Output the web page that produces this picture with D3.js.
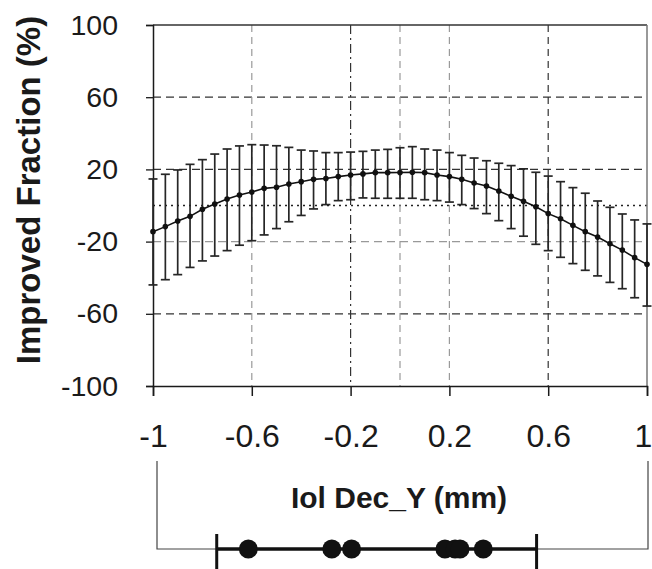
<!DOCTYPE html>
<html>
<head>
<meta charset="utf-8">
<script src="https://cdn.jsdelivr.net/npm/d3@7"></script>
<style>
  html, body { margin: 0; padding: 0; background: #fff; }
  svg { display: block; font-family: "Liberation Sans", Arial, sans-serif; }
</style>
</head>
<body>
<svg id="chart" width="652" height="569"></svg>
<script>
// ---- data ----
const xPositions = [-1, -0.95, -0.9, -0.85, -0.8, -0.75, -0.7, -0.65, -0.6, -0.55,
  -0.5, -0.45, -0.4, -0.35, -0.3, -0.25, -0.2, -0.15, -0.1, -0.05,
  0, 0.05, 0.1, 0.15, 0.2, 0.25, 0.3, 0.35, 0.4, 0.45,
  0.5, 0.55, 0.6, 0.65, 0.7, 0.75, 0.8, 0.85, 0.9, 0.95, 1];
const meanValues = [-14.5, -11.7, -8.6, -6.0, -2.1, 0.8, 3.6, 5.8, 7.5, 9.5,
  10.1, 11.9, 13.2, 14.5, 15.0, 16.0, 16.9, 17.5, 18.2, 18.2,
  18.3, 18.4, 18.2, 16.9, 16.0, 14.5, 12.5, 10.8, 8.0, 5.1,
  2.3, -0.7, -4.5, -7.3, -11.0, -14.5, -17.5, -21.2, -24.7, -28.9, -32.6];
const upperValues = [14.7, 17.3, 19.7, 22.8, 25.4, 28.5, 31.3, 33.0, 33.7, 33.5,
  33.1, 32.2, 30.7, 30.2, 29.3, 29.3, 29.6, 30.0, 30.7, 31.1,
  32.0, 32.6, 31.3, 30.7, 29.3, 27.8, 26.3, 24.8, 23.4, 22.1,
  20.3, 18.4, 16.3, 13.2, 9.9, 6.8, 2.5, -1.0, -4.7, -8.0, -10.2];
const lowerValues = [-44.0, -41.1, -38.3, -34.3, -30.7, -28.0, -25.0, -22.0, -19.5, -16.3,
  -12.8, -9.0, -5.5, -1.9, 0.5, 2.7, 3.2, 4.2, 4.0, 4.0,
  4.0, 4.0, 3.2, 2.7, 1.9, 0.5, -1.7, -4.5, -8.4, -12.8,
  -17.0, -21.5, -25.0, -28.7, -32.2, -35.9, -39.0, -42.6, -46.1, -51.1, -55.7];
const xTickValues = [-1, -0.6, -0.2, 0.2, 0.6, 1];
const xTickLabels = ["-1", "-0.6", "-0.2", "0.2", "0.6", "1"];
const yTickValues = [-100, -60, -20, 20, 60, 100];
const yTickLabels = ["-100", "-60", "-20", "20", "60", "100"];
const sampleValues = [-0.614, -0.276, -0.196, 0.182, 0.223, 0.243, 0.337];
const sampleRange = [-0.742, 0.553];
const yTitle = "Improved Fraction (%)";
const xTitle = "Iol Dec_Y (mm)";

// ---- layout ----
const svg = d3.select("#chart");
const x = d3.scaleLinear().domain([-1, 1]).range([153, 647]);
const y = d3.scaleLinear().domain([-100, 100]).range([386, 25]);
const ink = "#1a1a1a";

// gridlines
const hGrid = [
  {v: 60, color: "#333", dash: "8,5", w: 1.2},
  {v: 20, color: "#333", dash: "8,5", w: 1.2},
  {v: 0, color: "#222", dash: "2,4", w: 1.6},
  {v: -20, color: "#999", dash: "8,5", w: 1.2},
  {v: -60, color: "#333", dash: "8,5", w: 1.2}
];
svg.append("g").selectAll("line").data(hGrid).join("line")
  .attr("x1", x(-1)).attr("x2", x(1))
  .attr("y1", d => y(d.v)).attr("y2", d => y(d.v))
  .attr("stroke", d => d.color).attr("stroke-width", d => d.w)
  .attr("stroke-dasharray", d => d.dash);

const vGrid = [
  {v: -0.6, color: "#9a9a9a", dash: "7,5"},
  {v: -0.2, color: "#333", dash: "9,4,2,4"},
  {v: 0, color: "#9a9a9a", dash: "7,5"},
  {v: 0.2, color: "#9a9a9a", dash: "7,5"},
  {v: 0.6, color: "#333", dash: "7,5"}
];
svg.append("g").selectAll("line").data(vGrid).join("line")
  .attr("x1", d => x(d.v)).attr("x2", d => x(d.v))
  .attr("y1", y(100)).attr("y2", y(-100))
  .attr("stroke", d => d.color).attr("stroke-width", 1.2)
  .attr("stroke-dasharray", d => d.dash);

// frame: top and right
svg.append("line").attr("x1", x(-1)).attr("x2", x(1)).attr("y1", y(100)).attr("y2", y(100))
  .attr("stroke", "#333").attr("stroke-width", 1.5);
svg.append("line").attr("x1", x(1)).attr("x2", x(1)).attr("y1", y(100)).attr("y2", y(-100))
  .attr("stroke", "#777").attr("stroke-width", 1.5);

// axes
const yAxis = d3.axisLeft(y).tickValues(yTickValues)
  .tickFormat((d, i) => yTickLabels[i]).tickSize(7).tickPadding(28);
const gy = svg.append("g").attr("transform", `translate(${x(-1)},0)`).call(yAxis);
gy.select(".domain").attr("stroke", ink).attr("stroke-width", 1.5);
gy.selectAll(".tick line").attr("stroke", ink).attr("stroke-width", 1.3);
gy.selectAll(".tick text").attr("font-size", 28.5).attr("fill", ink)
  .attr("font-family", "'Liberation Sans', Arial, sans-serif");

const xAxis = d3.axisBottom(x).tickValues(xTickValues)
  .tickFormat((d, i) => xTickLabels[i]).tickSize(10).tickPadding(28);
const gx = svg.append("g").attr("transform", `translate(0,${y(-100)})`).call(xAxis);
gx.select(".domain").attr("stroke", ink).attr("stroke-width", 1.5);
gx.selectAll(".tick line").attr("stroke", ink).attr("stroke-width", 1.5);
gx.selectAll(".tick text").attr("font-size", 32).attr("fill", ink)
  .attr("font-family", "'Liberation Sans', Arial, sans-serif")
  .attr("dx", (d, i) => i === xTickValues.length - 1 ? -4 : 0);

// error bars
const data = xPositions.map((xv, i) => ({x: xv, m: meanValues[i], hi: upperValues[i], lo: lowerValues[i]}));
const capW = 4.5;
const eb = svg.append("g").attr("stroke", "#262626").attr("stroke-width", 1.7);
eb.selectAll("line.v").data(data).join("line").attr("class", "v")
  .attr("x1", d => x(d.x)).attr("x2", d => x(d.x))
  .attr("y1", d => y(d.hi)).attr("y2", d => y(d.lo));
eb.selectAll("line.t").data(data).join("line").attr("class", "t")
  .attr("x1", d => x(d.x) - capW).attr("x2", d => x(d.x) + capW)
  .attr("y1", d => y(d.hi)).attr("y2", d => y(d.hi));
eb.selectAll("line.b").data(data).join("line").attr("class", "b")
  .attr("x1", d => x(d.x) - capW).attr("x2", d => x(d.x) + capW)
  .attr("y1", d => y(d.lo)).attr("y2", d => y(d.lo));

// mean line + points
svg.append("path").datum(data)
  .attr("d", d3.line().x(d => x(d.x)).y(d => y(d.m)))
  .attr("fill", "none").attr("stroke", "#111").attr("stroke-width", 1.6);
svg.append("g").selectAll("circle").data(data).join("circle")
  .attr("cx", d => x(d.x)).attr("cy", d => y(d.m)).attr("r", 2.8).attr("fill", "#111");

// titles
svg.append("text").attr("transform", `translate(40,190) rotate(-90)`)
  .attr("text-anchor", "middle").attr("font-weight", "bold").attr("font-size", 33)
  .attr("fill", ink).text(yTitle);
svg.append("text").attr("x", 399).attr("y", 508)
  .attr("text-anchor", "middle").attr("font-weight", "bold").attr("font-size", 30)
  .attr("fill", ink).text(xTitle);

// sample strip box
const boxY = 549;
svg.append("path")
  .attr("d", `M${x(-1) + 4},461 V${boxY} H${x(1) + 1} V461`)
  .attr("fill", "none").attr("stroke", "#444").attr("stroke-width", 1.2);
svg.append("line").attr("x1", x(sampleRange[0])).attr("x2", x(sampleRange[1]))
  .attr("y1", boxY).attr("y2", boxY).attr("stroke", "#111").attr("stroke-width", 3.5);
svg.append("g").selectAll("line").data(sampleRange).join("line")
  .attr("x1", d => x(d)).attr("x2", d => x(d)).attr("y1", 534).attr("y2", 569)
  .attr("stroke", "#111").attr("stroke-width", 3);
svg.append("g").selectAll("circle").data(sampleValues).join("circle")
  .attr("cx", d => x(d)).attr("cy", boxY).attr("r", 9.5).attr("fill", "#111");
</script>
</body>
</html>
